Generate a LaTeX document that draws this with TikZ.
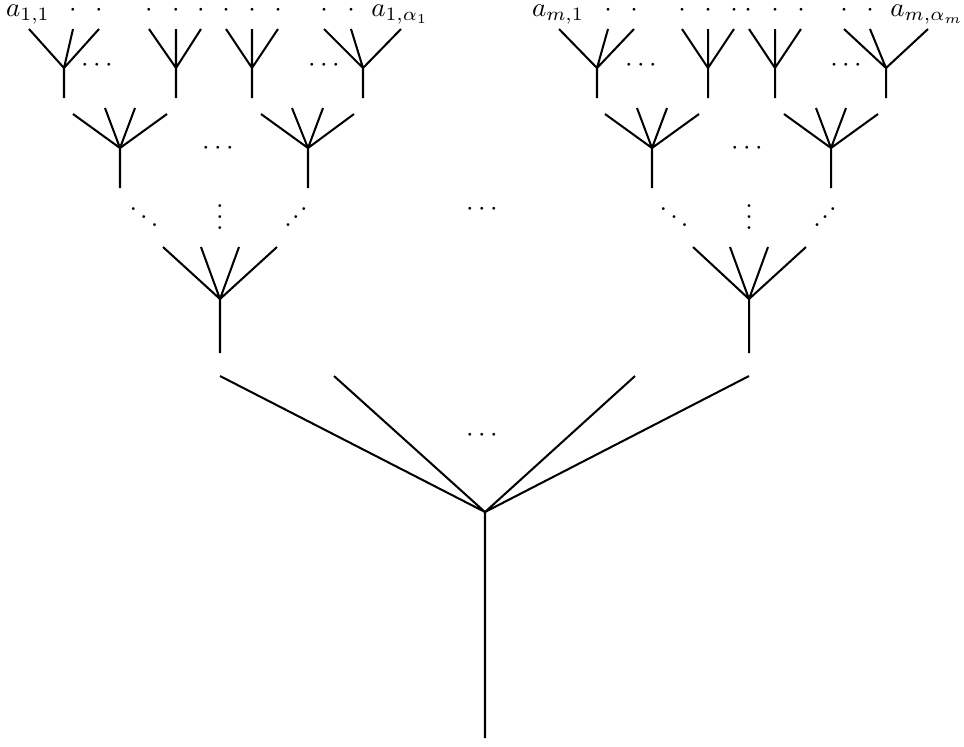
\documentclass[tikz,border=0pt]{standalone}
\newcommand\myiddots{\mathinner{\raise1pt\hbox{.}\kern0.1pt\raise4pt\hbox{.}\kern0.1pt\raise7pt\hbox{.}}}
% small forks of the top row: name, root x, three leaf x
\newcommand\topfork[5]{%
  \coordinate (#1r) at (#2,68);
  \coordinate (#1b) at (#2,98);
  \coordinate (#1a) at (#3,29);
  \coordinate (#1c) at (#4,29);
  \coordinate (#1d) at (#5,29);
  \draw[edge] (#1a) -- (#1r) -- (#1b) (#1c) -- (#1r) (#1d) -- (#1r);
}
% four-leaf forks: name, root x, four leaf x, outer leaf y, inner leaf y, root y, bottom y
\newcommand\quadfork[9]{%
  \coordinate (#1r) at (#2,#8);
  \coordinate (#1b) at (#2,#9);
  \coordinate (#1a) at (#3,#6);
  \coordinate (#1c) at (#4,#7);
  \coordinate (#1d) at (#5,#7);
  \coordinate (#1e) at ({#5+(#5-#4)*0+0},#7);
  \draw[edge] (#1a) -- (#1r) -- (#1b) (#1c) -- (#1r) (#1d) -- (#1r);
}
\begin{document}
\begin{tikzpicture}[x=0.37pt,y=-0.37pt,
  edge/.style={line width=0.75pt},
  lbl/.style={anchor=base,inner sep=0pt,outer sep=0pt}]
\useasboundingbox (0,0) rectangle (964,746);

% ---------- top row ----------
\topfork{tA}{64}{29}{73}{99}
\topfork{tB}{176}{149}{176}{201}
\topfork{tC}{252}{226}{252}{278}
\topfork{tD}{363}{324}{351}{401}
\topfork{tE}{597}{559}{608}{634}
\topfork{tF}{708}{682}{708}{734}
\topfork{tG}{775}{749}{775}{801}
\topfork{tH}{886}{844}{870}{928}

% labels above the leaves
\node[lbl] (l11) at (28,16.5) {$a_{1,1}$};
\node[lbl] (l1a) at (400,16.5) {$a_{1,\alpha_1}$};
\node[lbl] (lm1) at (558,16.5) {$a_{m,1}$};
\node[lbl] (lma) at (927,16.5) {$a_{m,\alpha_m}$};
\foreach \x [count=\i] in {73,99,149,176,201,226,252,278,324,351,608,634,682,708,734,748,775,801,844,870}
  \node[lbl] (d\i) at (\x,16) {$\cdot$};

\node[lbl] (tdots1) at (97,71.8) {$\cdots$};
\node[lbl] (tdots2) at (324,71.8) {$\cdots$};
\node[lbl] (tdots3) at (641,71.8) {$\cdots$};
\node[lbl] (tdots4) at (846,71.8) {$\cdots$};

% ---------- second row ----------
\foreach \n/\r/\a/\b/\c/\d in {mA/120/73/105/135/167, mB/308/261/292/323/354,
                               mC/652/605/637/667/699, mD/831/784/816/846/878}{
  \coordinate (\n r) at (\r,148);
  \coordinate (\n b) at (\r,188);
  \coordinate (\n 1) at (\a,114);
  \coordinate (\n 2) at (\b,108);
  \coordinate (\n 3) at (\c,108);
  \coordinate (\n 4) at (\d,114);
  \draw[edge] (\n 1) -- (\n r) -- (\n b) (\n 2) -- (\n r) (\n 3) -- (\n r) (\n 4) -- (\n r);
}
\node[lbl] (mdots1) at (218,154.8) {$\cdots$};
\node[lbl] (mdots2) at (747,154.8) {$\cdots$};

% ---------- connecting dots ----------
\node[lbl] (dd1) at (144,229) {$\ddots$};
\node[lbl] (vd1) at (220,229.5) {$\vdots$};
\node[lbl] (id1) at (296,229) {$\myiddots$};
\node[lbl] (dd2) at (674,229) {$\ddots$};
\node[lbl] (vd2) at (749,229.5) {$\vdots$};
\node[lbl] (id2) at (825,229) {$\myiddots$};
\node[lbl] (cdots) at (482,215.8) {$\cdots$};

% ---------- third row ----------
\foreach \n/\r/\a/\b/\c/\d in {lA/220/163/201/239/277, lB/749/693/730/768/806}{
  \coordinate (\n r) at (\r,299);
  \coordinate (\n b) at (\r,353);
  \coordinate (\n 1) at (\a,247);
  \coordinate (\n 2) at (\b,247);
  \coordinate (\n 3) at (\c,247);
  \coordinate (\n 4) at (\d,247);
  \draw[edge] (\n 1) -- (\n r) -- (\n b) (\n 2) -- (\n r) (\n 3) -- (\n r) (\n 4) -- (\n r);
}

% ---------- bottom fork ----------
\coordinate (root) at (485,512);
\coordinate (rootb) at (485,738);
\coordinate (b1) at (220,376);
\coordinate (b2) at (334,376);
\coordinate (b3) at (635,376);
\coordinate (b4) at (749,376);
\draw[edge] (b1) -- (root) -- (rootb) (b2) -- (root) (b3) -- (root) (b4) -- (root);
\node[lbl] (bdots) at (482,441.8) {$\cdots$};
\end{tikzpicture}
\end{document}
